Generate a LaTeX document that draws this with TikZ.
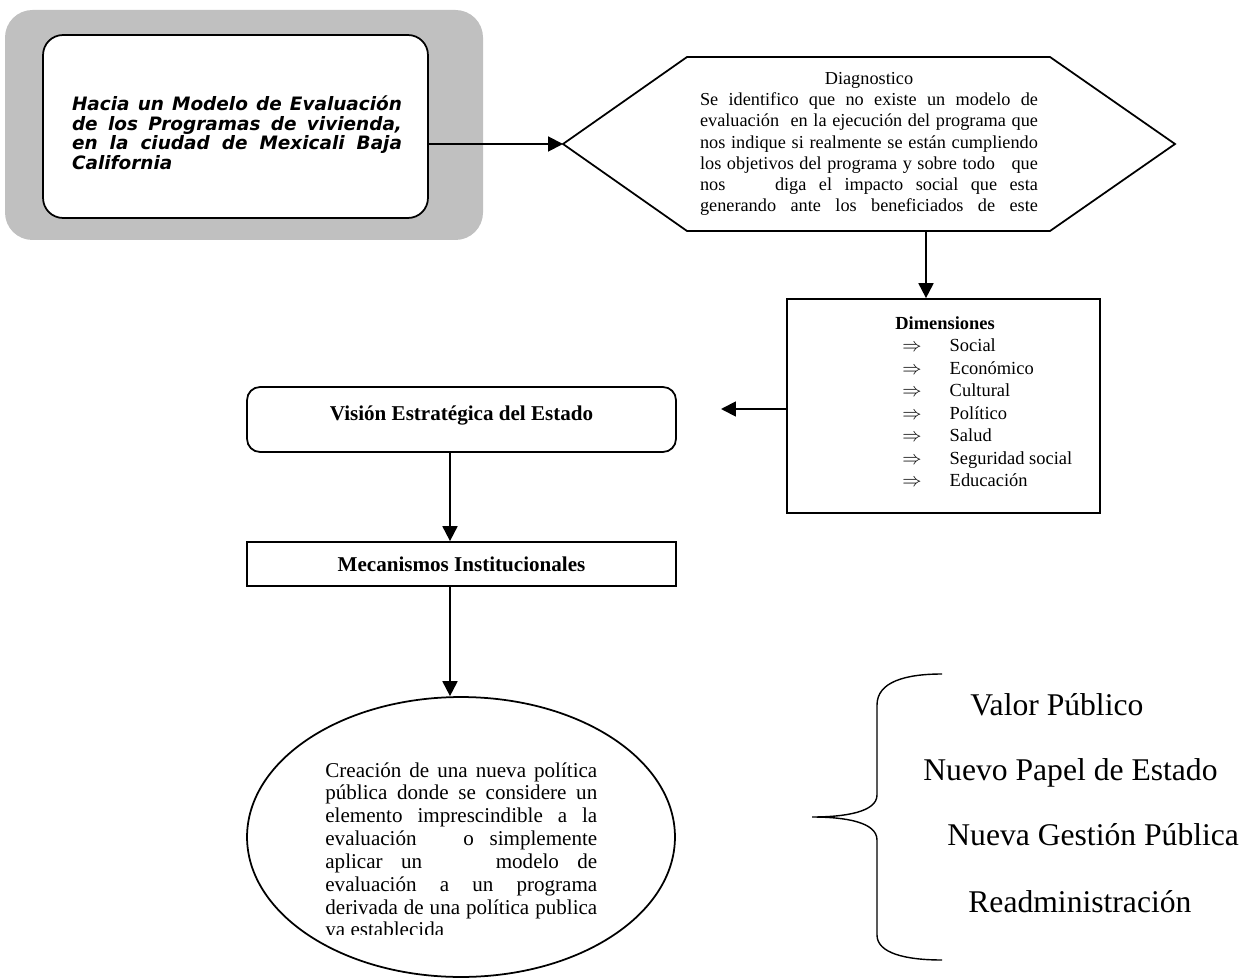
\documentclass[tikz,border=0pt]{standalone}
\usepackage{fontspec}
\setmainfont{Liberation Serif}
\newfontfamily\verdana{DejaVu Sans}
\usetikzlibrary{arrows.meta,shapes.geometric}
\definecolor{sombra}{HTML}{C0C0C0}
\tikzset{
  flecha/.style={-{Triangle[length=8.5pt,width=8.5pt]}, line width=1.1pt},
  caja/.style={draw, line width=1pt, inner sep=0pt},
  textoChico/.style={font=\fontsize{10.4}{12.1}\selectfont},
}
\begin{document}
\begin{tikzpicture}[x=0.02cm, y=-0.02cm]
        \useasboundingbox (0,0) rectangle (1250,979);
        %% Titulo
        \fill[sombra, rounded corners=0.55cm] (5,10) rectangle (483,240);
        \node[caja, fill=white, rounded corners=0.4cm, minimum width=7.7cm, minimum height=3.66cm]
              (titulo) at (235.5,126.5) {};
        \node[text width=6.6cm, align=justify, inner sep=0pt,
              font=\verdana\bfseries\itshape\fontsize{10.5}{11.1}\selectfont] (tituloTexto) at (237,133)
              {Hacia un Modelo de Evaluación\linebreak de los Programas de vivienda,\linebreak
               en la ciudad de Mexicali Baja\linebreak California};
        %% Diagnostico
        \draw[line width=1pt] (563,144) coordinate (diagW) -- (687,57) -- (1050,57) -- (1175,144)
              -- (1050,231) -- (687,231) -- cycle;
        \coordinate (diagS) at (926,231);
        \node[textoChico, text width=6.76cm, align=justify, inner sep=0pt] (diag) at (869,144)
              {\makebox[\linewidth][c]{Diagnostico}\par
               \parfillskip=0pt
               Se identifico que no existe un modelo de\linebreak
               evaluación\ \ en la ejecución del programa que\linebreak
               nos indique si realmente se están cumpliendo\linebreak
               los objetivos del programa y sobre todo\ \ \ que\linebreak
               nos\ \ \ \ diga el impacto social que esta\linebreak
               generando ante los beneficiados de este\par};
        %% Dimensiones
        \node[caja, minimum width=6.26cm, minimum height=4.28cm] (dims) at (943.5,406) {};
        \node[anchor=north west, inner sep=0pt, font=\fontsize{10.5}{12.8}\selectfont] (dimsTexto) at (895,313)
              {\begin{tabular}{@{\hspace{4pt}}l@{\hspace{16pt}}l}
                 \multicolumn{2}{@{}l}{\textbf{Dimensiones}}\\
                 $\Rightarrow$ & Social\\
                 $\Rightarrow$ & Económico\\
                 $\Rightarrow$ & Cultural\\
                 $\Rightarrow$ & Político\\
                 $\Rightarrow$ & Salud\\
                 $\Rightarrow$ & Seguridad social\\
                 $\Rightarrow$ & Educación
               \end{tabular}};
        \coordinate (libre) at (721,409);
        %% Estado
        \node[caja, rounded corners=0.26cm, minimum width=8.58cm, minimum height=1.3cm,
              font=\bfseries\fontsize{12}{14}\selectfont, text height=9pt, text depth=8.4pt]
              (vision) at (461.5,419.5) {Visión Estratégica del Estado};
        \node[caja, minimum width=8.58cm, minimum height=0.88cm,
              font=\bfseries\fontsize{12}{14}\selectfont] (meca) at (461.5,564) {Mecanismos Institucionales};
        \node[draw, ellipse, line width=1pt, minimum width=8.56cm, minimum height=5.6cm, inner sep=0pt]
              (elipse) at (461,837) {};
        \begin{scope}
            \clip (300,700) rectangle (640,934);
            \node[anchor=north west, inner sep=0pt, text width=5.44cm, align=justify,
                  font=\fontsize{12}{13}\selectfont] (elipseTexto) at (325,762)
                  {Creación de una nueva política\linebreak
                   pública donde se considere un\linebreak
                   elemento imprescindible a la\linebreak
                   evaluación\ \ \ o simplemente\linebreak
                   aplicar un\ \ \ \ modelo de\linebreak
                   evaluación a un programa\linebreak
                   derivada de una política publica\linebreak
                   ya establecida};
        \end{scope}
        \coordinate (eje) at (450,0);
        %% Flechas
        \draw[flecha] (titulo.east |- diagW) -- (diagW);
        \draw[flecha] (diagS) -- (dims.north -| diagS);
        \draw[flecha] (dims.west |- libre) -- (libre);
        \draw[flecha] (vision.south -| eje) -- (meca.north -| eje);
        \draw[flecha] (meca.south -| eje) -- (elipse.north -| eje);
        %% Llave
        \draw[line width=0.8pt] (942,674) .. controls (905,674) and (877,682) .. (877,705)
              -- (877,795) .. controls (877,812) and (845,817) .. (812,817)
              .. controls (845,817) and (877,822) .. (877,840)
              -- (877,935) .. controls (877,953) and (905,960) .. (942,960);
        \node[anchor=base west, inner sep=0pt, font=\fontsize{18}{20}\selectfont] (valor) at (970,715) {Valor Público};
        \node[anchor=base west, inner sep=0pt, font=\fontsize{18}{20}\selectfont] (papel) at (923,780) {Nuevo Papel de Estado};
        \node[anchor=base west, inner sep=0pt, font=\fontsize{18}{20}\selectfont] (gestion) at (947,845) {Nueva Gestión Pública};
        \node[anchor=base west, inner sep=0pt, font=\fontsize{18}{20}\selectfont] (readmin) at (968,912) {Readministración};
    \end{tikzpicture}
\end{document}
